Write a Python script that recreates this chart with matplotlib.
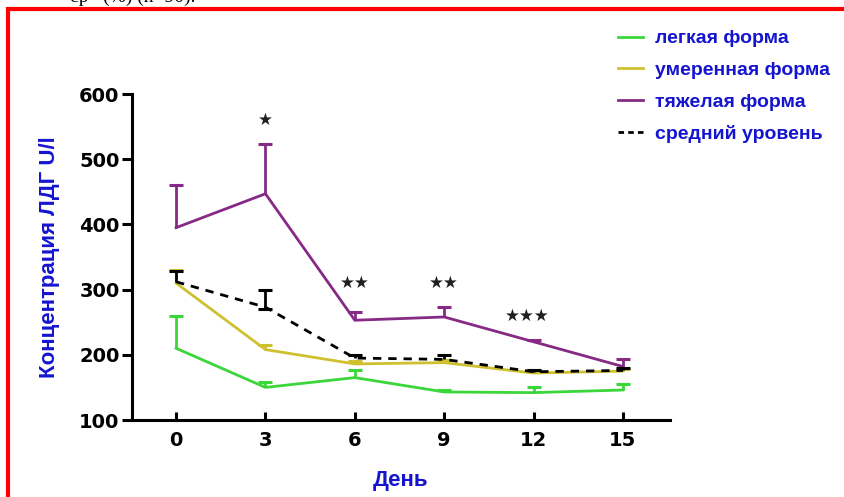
import matplotlib.pyplot as plt
from matplotlib.lines import Line2D
from matplotlib.patches import Rectangle
import numpy as np

days = [0, 3, 6, 9, 12, 15]

# mean values and upper ends of the error bars (U/l)
mild = [210, 150, 165, 143, 142, 146]
mild_top = [260, 158, 177, 146, 150, 155]
moderate = [310, 208, 186, 188, 172, 175]
moderate_top = [330, 215, 190, 192, 176, 178]
severe = [395, 447, 253, 258, 220, 182]
severe_top = [460, 523, 265, 274, 222, 194]
average = [312, 273, 195, 193, 174, 176]
average_top = [328, 300, 200, 199, 177, 179]
average_bottom = [312, 270, 195, 193, 174, 176]

labels = ['легкая форма', 'умеренная форма', 'тяжелая форма', 'средний уровень']
stars = ['★', '★★', '★★', '★★★']
star_x = [3, 6, 9, 11.8]
star_y = [561, 311, 311, 260]

GREEN = '#3ad63a'
YELLOW = '#cfc030'
PURPLE = '#862a86'
BLUE = '#1515d0'

plt.rcParams['font.family'] = ['Liberation Sans', 'DejaVu Sans']

fig = plt.figure(figsize=(8.44, 4.97), dpi=100)
ax = fig.add_axes([132 / 844, 1 - 420 / 497, (670 - 132) / 844, (420 - 94) / 497])


def draw_series(y, top, bottom, color, ls='-'):
    ax.plot(days, y, color=color, lw=2, ls=ls, zorder=3)
    ax.vlines(days, bottom, top, color=color, lw=2, zorder=3)
    ax.plot(days, top, ls='none', marker='_', ms=10, mew=2.2, color=color, zorder=3)
    b = np.array(bottom)
    m = b < np.array(y)
    ax.plot(np.array(days)[m], b[m], ls='none', marker='_', ms=10, mew=2.2,
            color=color, zorder=3)


draw_series(mild, mild_top, mild, GREEN)
draw_series(moderate, moderate_top, moderate, YELLOW)
draw_series(severe, severe_top, severe, PURPLE)
draw_series(average, average_top, average_bottom, 'black', ls=(0, (3, 2.5)))

for s, x, y in zip(stars, star_x, star_y):
    ax.text(x, y, s, ha='center', va='center', fontsize=12, color='#202020',
            family='DejaVu Sans')

ax.set_xlim(-1.48, 16.58)
ax.set_ylim(100, 600)
ax.set_xticks(days)
ax.set_yticks([100, 200, 300, 400, 500, 600])
for sp in ['top', 'right']:
    ax.spines[sp].set_visible(False)
for sp in ['left', 'bottom']:
    ax.spines[sp].set_linewidth(2.2)
ax.tick_params(axis='x', direction='in', length=6, width=2.2, pad=8)
ax.tick_params(axis='y', direction='out', length=7, width=2.2, pad=2)
for t in ax.get_xticklabels() + ax.get_yticklabels():
    t.set_fontsize(14)
    t.set_fontweight('bold')
    t.set_family('DejaVu Sans')

ax.set_ylabel('Концентрация ЛДГ U/l', color=BLUE, fontsize=16,
              fontweight='bold', labelpad=14)
ax.set_xlabel('День', color=BLUE, fontsize=16, fontweight='bold', labelpad=14)

handles = [Line2D([], [], color=GREEN, lw=2),
           Line2D([], [], color=YELLOW, lw=2),
           Line2D([], [], color=PURPLE, lw=2),
           Line2D([], [], color='black', lw=2, ls=(0, (2, 1.5)))]
leg = fig.legend(handles, labels, loc='upper left', bbox_to_anchor=(608 / 844, 1 - 20 / 497),
                 frameon=False, handlelength=1.3, handletextpad=0.6, labelspacing=0.72,
                 borderpad=0, prop={'weight': 'bold', 'size': 14})
for t in leg.get_texts():
    t.set_color(BLUE)

fig.patches.append(Rectangle((8 / 844, -0.1), 1.2, 1.1 - 9 / 497, transform=fig.transFigure,
                             fill=False, edgecolor='red', lw=3))
fig.text(70 / 844, 1 - 2 / 497, 'ср   (%) (n=90).', family='Liberation Serif',
         fontsize=14, va='baseline', color='black')

fig.savefig('out.png', dpi=100, facecolor='white')
